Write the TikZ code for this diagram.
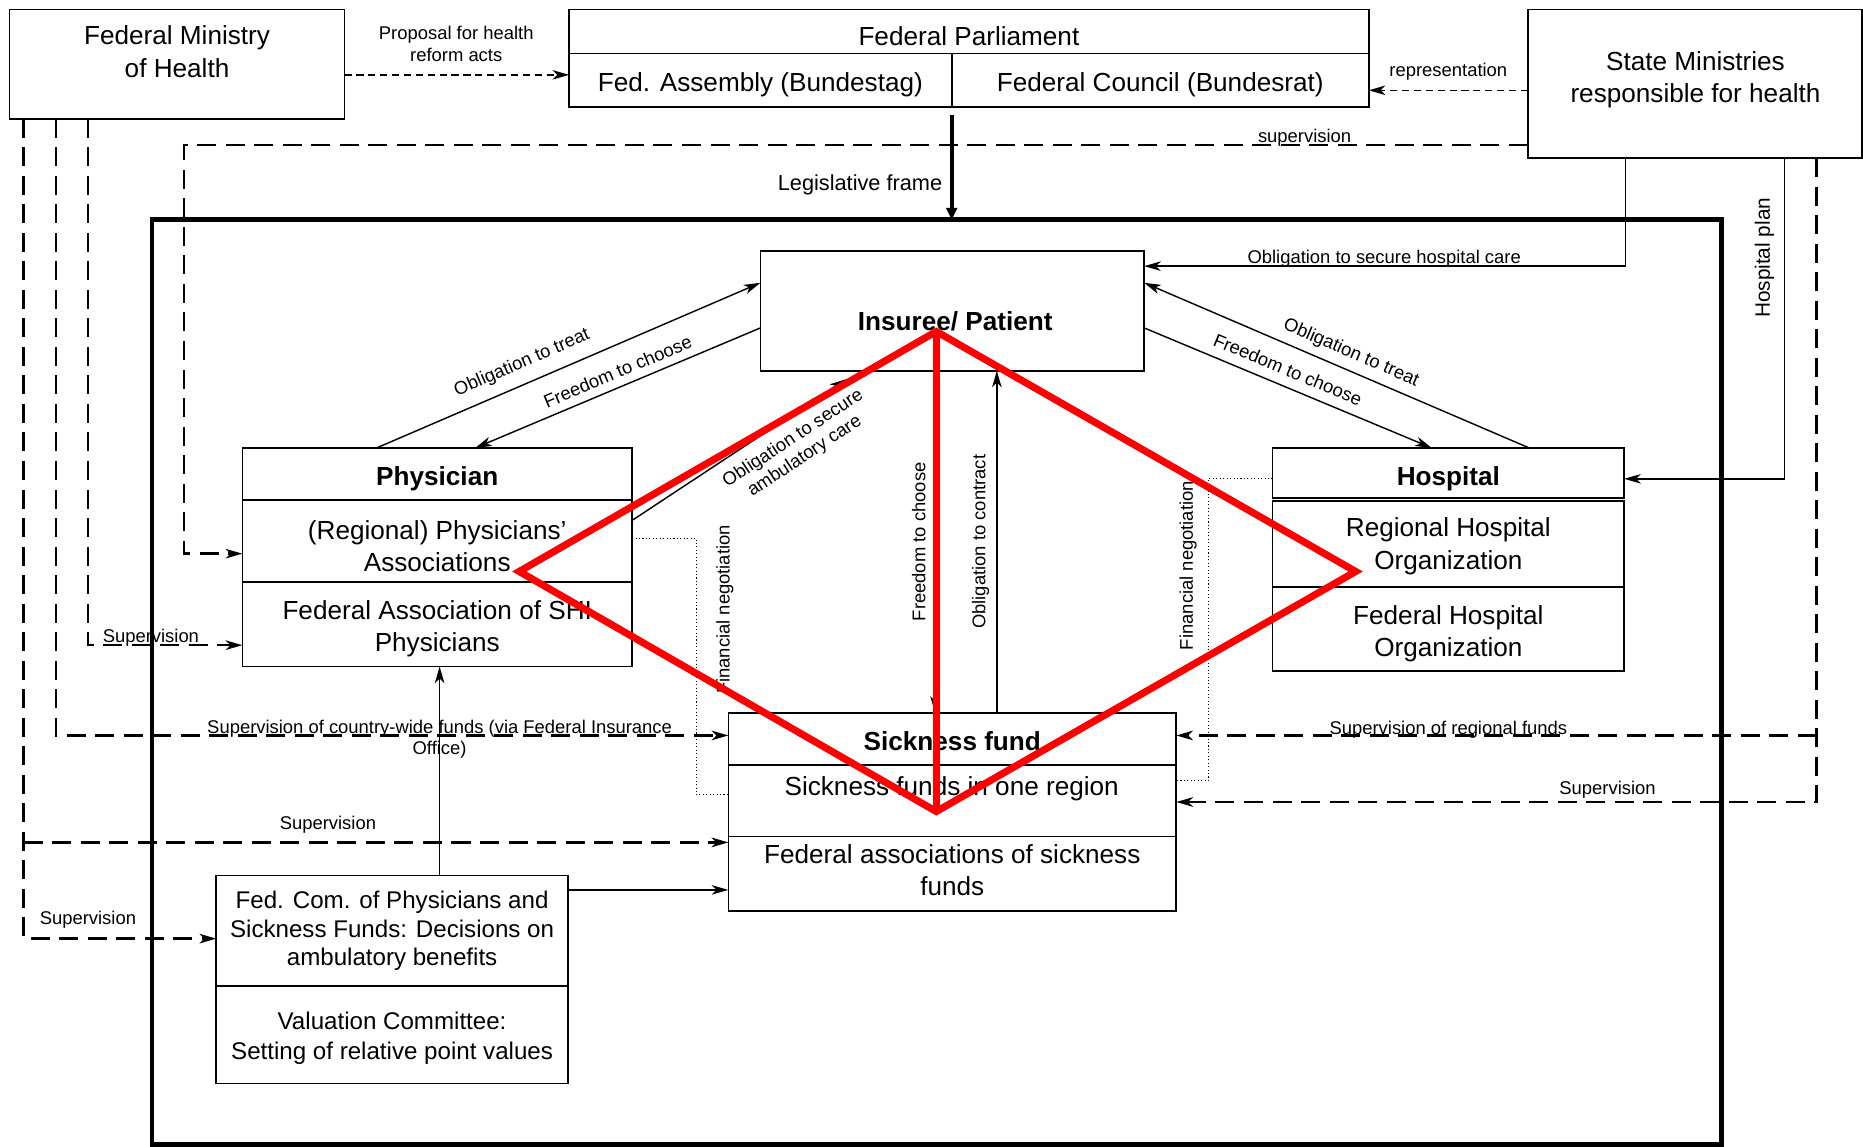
\documentclass[tikz,border=0pt]{standalone}
\usepackage{fontspec}
\setmainfont{Liberation Sans}
\usetikzlibrary{arrows.meta}
\newcommand{\mainsz}{\fontsize{22}{27}\selectfont}
\newcommand{\labsz}{\fontsize{15.5}{18}\selectfont}
\tikzset{
  every node/.style={inner sep=0pt, outer sep=0pt},
  cell/.style 2 args={draw, line width=1.4pt, minimum width=#1, minimum height=#2, anchor=north west},
  txt/.style={align=center, font=\mainsz},
  lab/.style={align=center, font=\labsz},
  thinline/.style={line width=1.2pt},
  ldash/.style={line width=2.2pt, dash pattern=on 16pt off 8pt},
  sdash/.style={line width=1.3pt, dash pattern=on 6pt off 4pt},
  fin/.style={line width=0.9pt, dotted},
  redline/.style={draw=red, line width=6pt},
  >={Stealth[length=14pt,width=8pt,inset=4pt]}
}
\begin{document}
\begin{tikzpicture}[x=1pt,y=-1pt]
\useasboundingbox (0,0) rectangle (1568,965);

% top row
\node[cell={282pt}{92pt}] (fmh) at (8,8) {};
\node[txt] (fmhtxt) at (149,43.5) {Federal Ministry\\of Health};
\node[cell={673pt}{37pt}] (parl) at (479,8) {};
\node[txt] (parltxt) at ([yshift=-4pt]parl.center) {Federal Parliament};
\node[cell={322pt}{45pt}] (bt) at (479,45) {};
\node[txt] (bttxt) at ([yshift=-4pt]bt.center) {Fed. Assembly (Bundestag)};
\node[cell={351pt}{45pt}] (br) at (801,45) {};
\node[txt] (brtxt) at ([yshift=-4pt]br.center) {Federal Council (Bundesrat)};
\node[cell={281pt}{125pt}] (state) at (1286,8) {};
\node[txt] (statetxt) at (1427,67.5) {State Ministries\\responsible for health};

% frame
\node[draw, line width=4pt, minimum width=1321pt, minimum height=778pt, anchor=north west] (frame) at (128,185) {};

% insuree
\node[cell={323pt}{101pt}] (ins) at (640,211) {};
\node[txt] (instxt) at (804,270) {\bfseries Insuree/ Patient};

% physician
\node[cell={328pt}{44pt}] (phys) at (204,377) {};
\node[txt] (phystxt) at ([yshift=-4pt]phys.center) {\bfseries Physician};
\node[cell={328pt}{69pt}] (physreg) at (204,421) {};
\node[txt] (physregtxt) at ([yshift=-4pt]physreg.center) {(Regional) Physicians’\\Associations};
\node[cell={328pt}{71pt}] (physfed) at (204,490) {};
\node[txt] (physfedtxt) at ([yshift=-4pt]physfed.center) {Federal Association of SHI\\Physicians};

% hospital
\node[cell={296pt}{42pt}] (hosp) at (1071,377) {};
\node[txt] (hosptxt) at ([yshift=-5pt]hosp.center) {\bfseries Hospital};
\node[cell={296pt}{72.5pt}] (hospreg) at (1071,421.5) {};
\node[txt] (hospregtxt) at ([yshift=-2pt]hospreg.center) {Regional Hospital\\Organization};
\node[cell={296pt}{71pt}] (hospfed) at (1071,494) {};
\node[txt] (hospfedtxt) at ([yshift=-4pt]hospfed.center) {Federal Hospital\\Organization};

% sickness fund
\node[cell={377pt}{44pt}] (sf) at (613,600) {};
\node[txt] (sftxt) at ([yshift=-2pt]sf.center) {\bfseries Sickness fund};
\node[cell={377pt}{60pt}] (sfreg) at (613,644) {};
\node[txt] (sfregtxt) at (801,664) {Sickness funds in one region};
\node[cell={377pt}{63pt}] (sffed) at (613,704) {};
\node[txt] (sffedtxt) at ([yshift=3pt]sffed.center) {Federal associations of sickness\\funds};

% federal committee
\node[cell={296pt}{93pt}] (fc) at (182,737) {};
\node[txt, font=\fontsize{20.3}{24}\selectfont] (fctxt) at (fc.center) {Fed. Com. of Physicians and\\Sickness Funds: Decisions on\\ambulatory benefits};
\node[cell={296pt}{82pt}] (vc) at (182,830) {};
\node[txt, font=\fontsize{20.3}{25}\selectfont] (vctxt) at ([yshift=-3pt]vc.center) {Valuation Committee:\\Setting of relative point values};

% top connectors
\draw[sdash,->] (fmh.east |- 0,63) -- (bt.west |- 0,63);
\node[lab] (lprop) at (384,37) {Proposal for health\\reform acts};
\draw[sdash,->] (state.west |- 0,76) -- (br.east |- 0,76);
\node[lab, anchor=base] (lrep) at (1219,64) {representation};
\draw[line width=3.2pt, shorten <=7pt, -{Triangle[length=10pt,width=9pt]}] (bt.south east) -- (bt.south east |- frame.north);
\node[lab, anchor=east, font=\fontsize{18.3}{20}\selectfont] (lleg) at (793,156) {Legislative frame};

% supervision from state to physicians
\coordinate (sv1) at (155,122);
\coordinate (sv2) at (155,466);
\draw[ldash,->] (state.west |- sv1) -- (sv1) -- (sv2) -- (physreg.west |- sv2);
\node[lab, anchor=base] (lsup) at (1098,120) {supervision};

% state: hospital care, hospital plan
\coordinate (hc1) at (1368,224);
\draw[thinline,->] (state.south -| hc1) -- (hc1) -- (ins.east |- hc1);
\node[lab, anchor=base] (lhc) at (1165,222) {Obligation to secure hospital care};
\coordinate (hp1) at (1502,403);
\draw[thinline,->] (state.south -| hp1) -- (hp1) -- (hosp.east |- hp1);
\node[lab, rotate=90, font=\fontsize{17.5}{20}\selectfont] (lhp) at (1485,217) {Hospital plan};

% state supervision of sickness funds
\coordinate (rs1) at (1529,619);
\coordinate (rs2) at (1529,675);
\draw[ldash,->] (state.south -| rs2) -- (rs2) -- (sfreg.east |- rs2);
\draw[ldash,->] (rs1) -- (sf.east |- rs1);
\node[lab, anchor=base] (lrf) at (1219,618) {Supervision of regional funds};
\node[lab, anchor=base] (lrs) at (1353,669) {Supervision};

% federal ministry supervision
\coordinate (fa) at (74,543);
\draw[ldash,->] (fmh.south -| fa) -- (fa) -- (physfed.west |- fa);
\node[lab, anchor=base] (lfa) at (127,541) {Supervision};
\coordinate (fb) at (47,619);
\draw[ldash,->] (fmh.south -| fb) -- (fb) -- (sf.west |- fb);
\node[lab] (lfb) at (370,622) {Supervision of country-wide funds (via Federal Insurance\\Office)};
\coordinate (fc1) at (20,709);
\coordinate (fc2) at (20,790);
\draw[ldash,->] (fmh.south -| fc2) -- (fc2) -- (fc.west |- fc2);
\draw[ldash,->] (fc1) -- (sffed.west |- fc1);
\node[lab, anchor=base] (lfc1) at (276,698) {Supervision};
\node[lab, anchor=base] (lfc2) at (74,778) {Supervision};

% committee connectors
\draw[thinline,->] (fc.north -| 370,0) -- (physfed.south -| 370,0);
\draw[thinline,->] (fc.east |- 0,749) -- (sffed.west |- 0,749);

% physician - insuree
\draw[thinline,->] (phys.north -| 317,0) -- (ins.west |- 0,238)
  node[lab, pos=.40, sloped, above=10pt] {Obligation to treat};
\draw[thinline,<-] (phys.north -| 400,0) -- (ins.west |- 0,276)
  node[lab, pos=.52, sloped, above=7pt] {Freedom to choose};
\draw[thinline,->, shorten >=13pt] (physreg.east |- 0,438) -- (ins.south -| 723,0)
  node[lab, pos=.66, sloped, below=10pt] {Obligation to secure\\ambulatory care};

% insuree - hospital
\draw[thinline,->] (ins.east |- 0,276) -- (hosp.north -| 1205,0)
  node[lab, pos=.477, sloped, above=8.5pt] {Freedom to choose};
\draw[thinline,<-] (ins.east |- 0,238) -- (hosp.north -| 1287,0)
  node[lab, pos=.52, sloped, above=7pt] {Obligation to treat};

% insuree - sickness fund
\draw[thinline,<-] (sf.north -| 787,0) -- (ins.south -| 787,0)
  node[lab, midway, sloped, above=8pt] {Freedom to choose};
\draw[thinline,->] (sf.north -| 839,0) -- (ins.south -| 839,0)
  node[lab, midway, sloped, above=6.5pt] {Obligation to contract};

% financial negotiation
\coordinate (fl1) at (586,453);
\coordinate (fl2) at (586,669);
\draw[fin] (physreg.east |- fl1) -- (fl1) -- (fl2) -- (sfreg.west |- fl2);
\node[lab, rotate=90] (lfl) at (610,513) {Financial negotiation};
\coordinate (fr1) at (1017,403);
\coordinate (fr2) at (1017,657);
\draw[fin] (hosp.west |- fr1) -- (fr1) -- (fr2) -- (sfreg.east |- fr2);
\node[lab, rotate=90] (lfr) at (1000,476) {Financial negotiation};

% red overlay
\coordinate (rt) at (788,279);
\coordinate (rl) at (437,481);
\coordinate (rb) at (788,683);
\coordinate (rr) at (1141,481);
\draw[redline] (rt) -- (rl) -- (rb) -- (rr) -- cycle;
\draw[redline] (rt) -- (rb);
\end{tikzpicture}
\end{document}
